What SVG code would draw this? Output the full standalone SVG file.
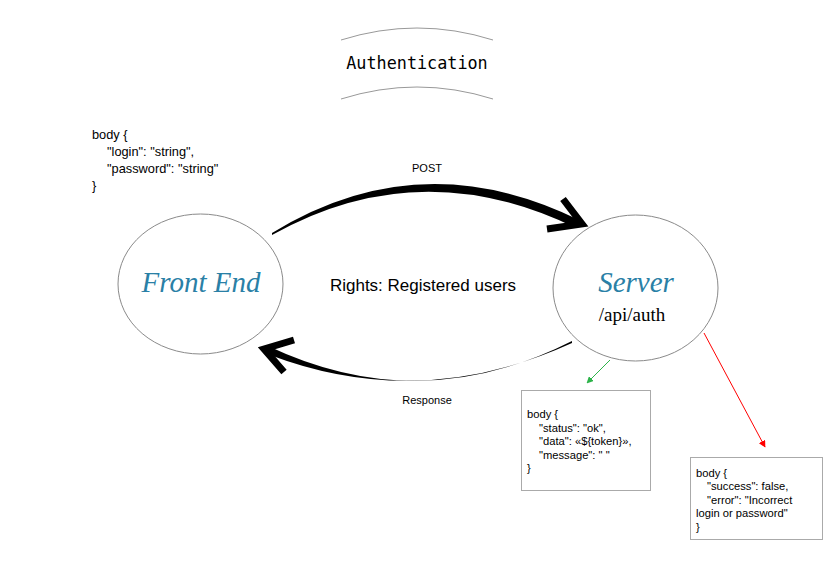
<svg xmlns="http://www.w3.org/2000/svg" width="836" height="587" viewBox="0 0 836 587">
<defs>
<style>
.arc{fill:none;stroke:#999;stroke-width:1}
.node{fill:#fff;stroke:#8a8a8a;stroke-width:1}
.box{fill:#fff;stroke:#aaa;stroke-width:1}
.code{font-family:"Liberation Sans",Arial,sans-serif;font-size:12.8px;fill:#000}
.small{font-family:"Liberation Sans",Arial,sans-serif;font-size:11.2px;fill:#000}
.lbl{font-family:"Liberation Sans",Arial,sans-serif;font-size:11px;fill:#000;text-anchor:middle}
.title{font-family:"DejaVu Sans Mono","Liberation Mono",monospace;font-size:16.8px;fill:#000;text-anchor:middle}
.name{font-family:"Liberation Serif","Times New Roman",serif;font-style:italic;font-size:29px;fill:#2a80a6;text-anchor:middle}
.head{fill:none;stroke:#000;stroke-width:7;stroke-linecap:butt;stroke-linejoin:miter}
</style>
<marker id="mg" viewBox="0 0 10 10" refX="9" refY="5" markerWidth="7" markerHeight="7" orient="auto" markerUnits="userSpaceOnUse"><path d="M0,0 L10,5 L0,10 z" fill="#2db34a"/></marker>
<marker id="mr" viewBox="0 0 10 10" refX="9" refY="5" markerWidth="7" markerHeight="7" orient="auto" markerUnits="userSpaceOnUse"><path d="M0,0 L10,5 L0,10 z" fill="#f00"/></marker>
</defs>
<rect width="836" height="587" fill="#fff"/>

<g id="title">
<path class="arc" d="M341,40 Q417,16 493,40"/>
<text class="title" x="417" y="69">Authentication</text>
<path class="arc" d="M341,99 Q417,75 493,99"/>
</g>

<g id="request-body">
<text class="code" x="92" y="139">body {</text>
<text class="code" x="107" y="156">"login": "string",</text>
<text class="code" x="107" y="173">"password": "string"</text>
<text class="code" x="92" y="190">}</text>
</g>

<g id="front-end">
<ellipse class="node" cx="200.5" cy="284" rx="82.5" ry="70"/>
<text class="name" x="201" y="292">Front End</text>
</g>

<g id="server">
<ellipse class="node" cx="635.5" cy="288" rx="82.5" ry="73"/>
<text class="name" x="636" y="292">Server</text>
<text x="632" y="321" font-family="Liberation Serif,'Times New Roman',serif" font-size="19" text-anchor="middle" fill="#000">/api/auth</text>
</g>

<g id="rights">
<text x="423" y="291" font-family="Liberation Sans,Arial,sans-serif" font-size="17" text-anchor="middle" fill="#000">Rights: Registered users</text>
</g>

<g id="connectors">
<path d="M272,233 Q420,142 579,220 L576,228 Q420,152 272,235 Z" fill="#000"/>
<polyline class="head" points="563,199 582,224 547,229"/>
<text class="lbl" x="427" y="172">POST</text>

<path d="M572,341 Q420,418 268,346 L270,355 Q420,412 572,343 Z" fill="#000"/>
<polyline class="head" points="294,340 264,349 284,372"/>
<text class="lbl" x="427" y="404">Response</text>

<line x1="610" y1="360" x2="587" y2="383" stroke="#2db34a" stroke-width="1" marker-end="url(#mg)"/>
<line x1="704" y1="333" x2="765" y2="447" stroke="#f00" stroke-width="1" marker-end="url(#mr)"/>
</g>

<g id="success-box">
<rect class="box" x="521.5" y="390.5" width="129" height="100"/>
<text class="small" x="527" y="418">body {</text>
<text class="small" x="539" y="431.5">"status": "ok",</text>
<text class="small" x="539" y="445">"data": «${token}»,</text>
<text class="small" x="539" y="458.5">"message": " "</text>
<text class="small" x="527" y="472">}</text>
</g>

<g id="error-box">
<rect class="box" x="690.5" y="457.5" width="132" height="82"/>
<text class="small" x="696" y="476.5">body {</text>
<text class="small" x="707" y="490">"success": false,</text>
<text class="small" x="707" y="503.5">"error": "Incorrect</text>
<text class="small" x="696" y="517">login or password"</text>
<text class="small" x="696" y="530.5">}</text>
</g>
</svg>
